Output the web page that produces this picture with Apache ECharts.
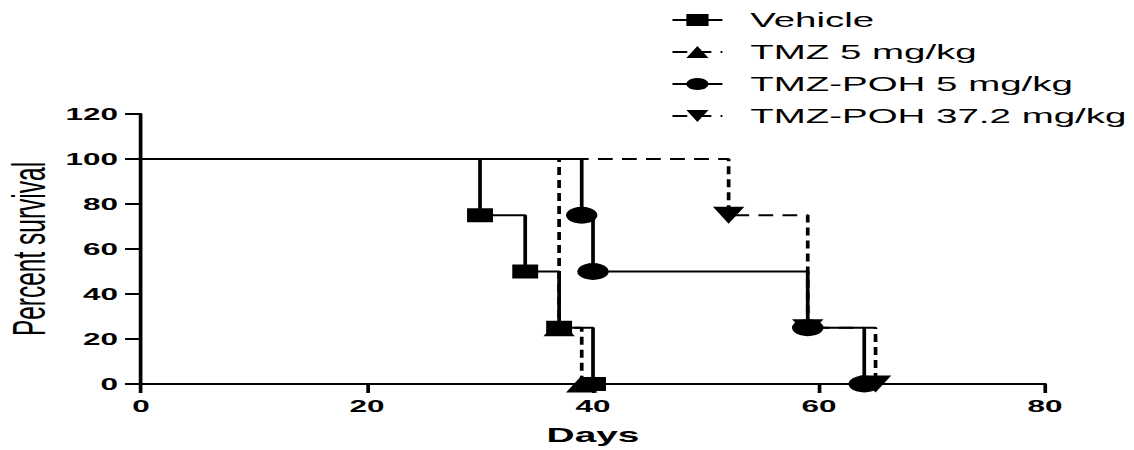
<!DOCTYPE html>
<html><head><meta charset="utf-8">
<script src="https://cdn.jsdelivr.net/npm/echarts@6/dist/echarts.min.js"></script>
<style>
html,body{margin:0;padding:0;background:#fff;overflow:hidden}
#wrap{width:1134px;height:450px;overflow:hidden}
#chart{width:613px;height:450px;transform:scaleX(1.85);transform-origin:0 0}
</style></head>
<body><div id="wrap"><div id="chart"></div></div>
<script>
// Kaplan-Meier survival data (days, percent survival)
const seriesNames = ['Vehicle', 'TMZ 5 mg/kg', 'TMZ-POH 5 mg/kg', 'TMZ-POH 37.2 mg/kg'];
const vehicleDays = [0, 30, 34, 37, 40];
const vehicleSurv = [100, 75, 50, 25, 0];
const tmz5Days = [0, 37, 39];
const tmz5Surv = [100, 25, 0];
const poh5Days = [0, 39, 40, 59, 64];
const poh5Surv = [100, 75, 50, 25, 0];
const poh37Days = [0, 52, 59, 65];
const poh37Surv = [100, 75, 25, 0];
const xTicks = [0, 20, 40, 60, 80];
const yTicks = [0, 20, 40, 60, 80, 100, 120];

const FONT = "'Liberation Sans', Arial, sans-serif";

function pts(days, surv) {
  return days.map((d, i) => ({ value: [d, surv[i]], symbol: i === 0 ? 'none' : undefined }));
}

function mk(name, days, surv, symbol, dashed, z, rotate, size) {
  return {
    name: name,
    type: 'line',
    step: 'end',
    data: pts(days, surv),
    symbol: symbol,
    symbolSize: size,
    symbolRotate: rotate || 0,
    showAllSymbol: true,
    z: z,
    lineStyle: { color: '#000', width: 2, type: dashed ? [8, 5] : 'solid' },
    itemStyle: { color: '#000', borderWidth: 0 },
    emphasis: { disabled: true },
    clip: false
  };
}

const chart = echarts.init(document.getElementById('chart'), null, { renderer: 'svg' });
chart.setOption({
  animation: false,
  backgroundColor: '#fff',
  textStyle: { fontFamily: FONT },
  legend: {
    orient: 'vertical',
    left: 357.5,
    top: 4,
    itemWidth: 27,
    itemHeight: 15,
    itemGap: 10,
    data: seriesNames,
    textStyle: { fontSize: 20.8, color: '#000', fontFamily: FONT, lineHeight: 22, padding: [0, 0, 0, 10] },
    selectedMode: false
  },
  grid: { left: 76.2, right: 48.1, top: 114, bottom: 66, containLabel: false, outerBoundsMode: 'none' },
  xAxis: {
    type: 'value',
    min: xTicks[0],
    max: xTicks[xTicks.length - 1],
    interval: xTicks[1] - xTicks[0],
    name: 'Days',
    nameLocation: 'middle',
    nameGap: 40,
    nameMoveOverlap: false,
    nameTextStyle: { fontSize: 21, fontWeight: 'bold', color: '#000', fontFamily: FONT },
    axisLine: { onZero: false, lineStyle: { color: '#000', width: 2 } },
    axisTick: { show: true, length: 9, lineStyle: { color: '#000', width: 2 } },
    axisLabel: { fontSize: 17, fontWeight: 'bold', color: '#000', margin: 13, fontFamily: FONT },
    splitLine: { show: false }
  },
  yAxis: {
    type: 'value',
    min: yTicks[0],
    max: yTicks[yTicks.length - 1],
    interval: yTicks[1] - yTicks[0],
    name: 'Percent survival',
    nameLocation: 'middle',
    nameGap: 48,
    nameMoveOverlap: false,
    nameTextStyle: { fontSize: 24.5, color: '#000', fontFamily: FONT },
    axisLine: { show: true, onZero: false, lineStyle: { color: '#000', width: 2 } },
    axisTick: { show: true, length: 8.6, lineStyle: { color: '#000', width: 2 } },
    axisLabel: { fontSize: 17, fontWeight: 'bold', color: '#000', margin: 12.4, fontFamily: FONT },
    splitLine: { show: false }
  },
  series: [
    mk(seriesNames[0], vehicleDays, vehicleSurv, 'rect', false, 5, 0, 14),
    mk(seriesNames[1], tmz5Days, tmz5Surv, 'triangle', true, 3, 0, 17),
    mk(seriesNames[2], poh5Days, poh5Surv, 'circle', false, 4, 0, 17),
    mk(seriesNames[3], poh37Days, poh37Surv, 'triangle', true, 3, 180, 17)
  ]
});
</script>
</body></html>
